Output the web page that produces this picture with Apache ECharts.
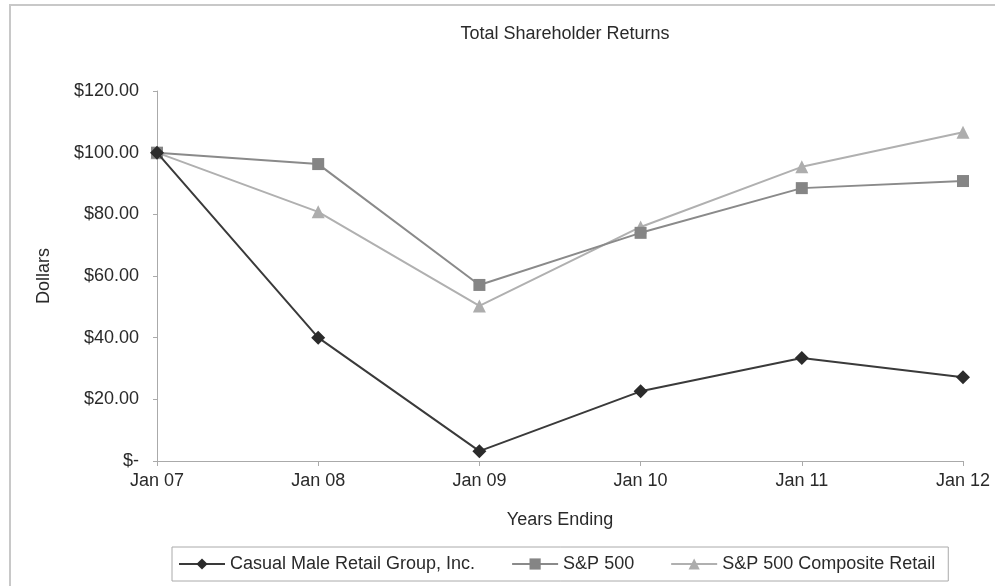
<!DOCTYPE html>
<html><head><meta charset="utf-8">
<script src="https://cdn.jsdelivr.net/npm/echarts@6/dist/echarts.min.js"></script>
<style>html,body{margin:0;padding:0;background:#fff}#c{width:995px;height:586px}</style>
</head><body><div id="c"></div>
<script>
const categories = ['Jan 07','Jan 08','Jan 09','Jan 10','Jan 11','Jan 12'];
const casualMale = [100, 40.0, 3.2, 22.6, 33.4, 27.2];
const sp500 = [100, 96.3, 57.1, 74.0, 88.5, 90.8];
const spRetail = [100, 80.8, 50.3, 75.9, 95.4, 106.6];
const seriesNames = ['Casual Male Retail Group, Inc.', 'S&P 500', 'S&P 500 Composite Retail'];

const chart = echarts.init(document.getElementById('c'), null, {renderer: 'canvas'});
const font = 'Liberation Sans, Arial, sans-serif';
const txt = '#2a2a2a';
const fs = 18;
chart.setOption({
  backgroundColor: '#fff',
  animation: false,
  title: {text: 'Total Shareholder Returns', left: 560, top: 20, textAlign: 'center',
    textStyle: {fontFamily: font, fontSize: fs, fontWeight: 'normal', color: txt}},
  graphic: [{type: 'rect', shape: {x: 10, y: 5, width: 1000, height: 600}, style: {fill: 'none', stroke: '#c8c8c8', lineWidth: 2}, silent: true}],
  grid: {left: 157, right: 32, top: 91, bottom: 125},
  legend: {
    left: 172, top: 547,
    data: seriesNames,
    itemWidth: 46, itemHeight: 14, itemGap: 36,
    padding: [8, 13, 8, 6],
    borderColor: '#aaa', borderWidth: 1,
    textStyle: {fontFamily: font, fontSize: fs, color: txt}
  },
  xAxis: {
    type: 'category', data: categories, boundaryGap: false,
    name: 'Years Ending', nameLocation: 'middle', nameGap: 50,
    nameTextStyle: {fontFamily: font, fontSize: fs, color: txt},
    axisLine: {lineStyle: {color: '#aaa'}},
    axisTick: {show: true, length: 5, lineStyle: {color: '#aaa'}},
    axisLabel: {fontFamily: font, fontSize: fs, color: txt, margin: 11}
  },
  yAxis: {
    type: 'value', min: 0, max: 120, interval: 20,
    name: 'Dollars', nameLocation: 'middle', nameGap: 104, nameRotate: 90,
    nameTextStyle: {fontFamily: font, fontSize: fs, color: txt},
    axisLine: {show: true, lineStyle: {color: '#aaa'}},
    axisTick: {show: true, length: 4, lineStyle: {color: '#aaa'}},
    splitLine: {show: false},
    axisLabel: {fontFamily: font, fontSize: fs, color: txt, margin: 18,
      formatter: v => v === 0 ? '$-' : '$' + v.toFixed(2)}
  },
  series: [
    {name: seriesNames[0], type: 'line', data: casualMale, symbol: 'diamond', symbolSize: 14,
      itemStyle: {color: '#2b2b2b'}, lineStyle: {color: '#3a3a3a', width: 2}, z: 3},
    {name: seriesNames[1], type: 'line', data: sp500, symbol: 'rect', symbolSize: 12,
      itemStyle: {color: '#858585'}, lineStyle: {color: '#8a8a8a', width: 2}, z: 2},
    {name: seriesNames[2], type: 'line', data: spRetail, symbol: 'triangle', symbolSize: 13,
      itemStyle: {color: '#adadad'}, lineStyle: {color: '#b0b0b0', width: 2}, z: 1}
  ]
});
</script></body></html>
